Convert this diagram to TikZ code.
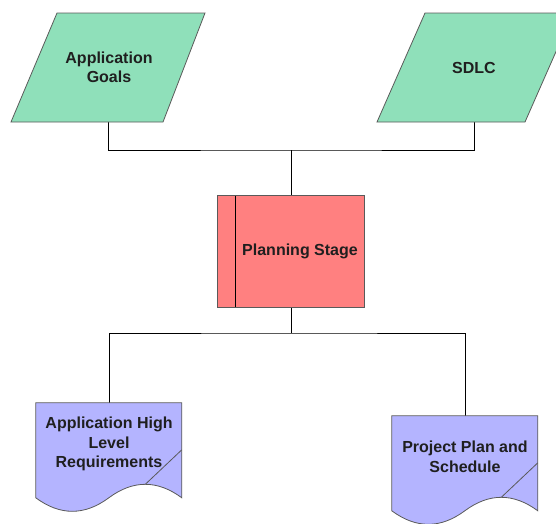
\documentclass[tikz,border=0pt]{standalone}
\usepackage{fontspec}
\setmainfont{Liberation Sans}
\definecolor{inputfill}{RGB}{143,224,186}
\definecolor{stagefill}{RGB}{255,128,128}
\definecolor{docfill}{RGB}{180,180,255}
\definecolor{edgegrey}{RGB}{90,90,90}
\begin{document}
\begin{tikzpicture}[x=1pt,y=-1pt,
  lbl/.style={font=\bfseries\fontsize{16}{19.5}\selectfont, align=center, text=black!88, inner sep=0pt},
  frame/.style={minimum width=#1, inner sep=0pt, draw=none},
  outline/.style={draw=edgegrey, line width=0.8pt},
  wire/.style={draw=black, line width=0.9pt},
  docshape/.pic={
    \path[outline, fill=docfill] (0,0) -- (146,0) -- (146,95)
      .. controls (121.7,77) and (97.3,77) .. (73,95)
      .. controls (48.7,113) and (24.3,113) .. (0,95) -- cycle;
    \draw[outline] (109.5,81.5) -- (146,47);
  }
]
\useasboundingbox (0,0) rectangle (556,523);

% invisible frames that carry the connector anchors
\node[frame=194, minimum height=109] (goals) at (108,67.5) {};
\node[frame=196, minimum height=109] (sdlc) at (474,67.5) {};
\node[frame=146, minimum height=111] (plan) at (291,251.5) {};
\node[frame=146, minimum height=95] (req) at (109,450.5) {};
\node[frame=146, minimum height=95] (sched) at (465,463.5) {};
\coordinate (busin) at (291,150);
\coordinate (busout) at (291,333);

% connectors
\draw[wire] (goals.south) |- (busin) -| (sdlc.south);
\draw[wire] (busin) -- (plan.north);
\draw[wire] (plan.south) -- (busout);
\draw[wire] (req.north) |- (busout) -| (sched.north);

\begin{scope}
\clip (0,0) rectangle (556,523);
% input parallelograms
\draw[outline, fill=inputfill] (57,13) -- (205,13) -- (163,122) -- (11,122) -- cycle;
\draw[outline, fill=inputfill] (425,13) -- (573,13) -- (525,122) -- (377,122) -- cycle;
% planning stage process box
\draw[outline, fill=stagefill] (plan.north west) rectangle (plan.south east);
\draw[black, line width=0.8pt] ([xshift=18]plan.north west) -- ([xshift=18]plan.south west);
% output documents
\pic at (req.north west) {docshape};
\pic at (sched.north west) {docshape};
\end{scope}

% labels
\node[lbl] (goalstext) at (109,67.5) {Application\\Goals};
\node[lbl] (sdlctext) at (474,67.5) {SDLC};
\node[lbl] (plantext) at (300,251.5) {Planning Stage};
\node[lbl] (reqtext) at (109,444) {Application High\\Level\\Requirements};
\node[lbl] (schedtext) at (465,457) {Project Plan and\\Schedule};
\end{tikzpicture}
\end{document}
